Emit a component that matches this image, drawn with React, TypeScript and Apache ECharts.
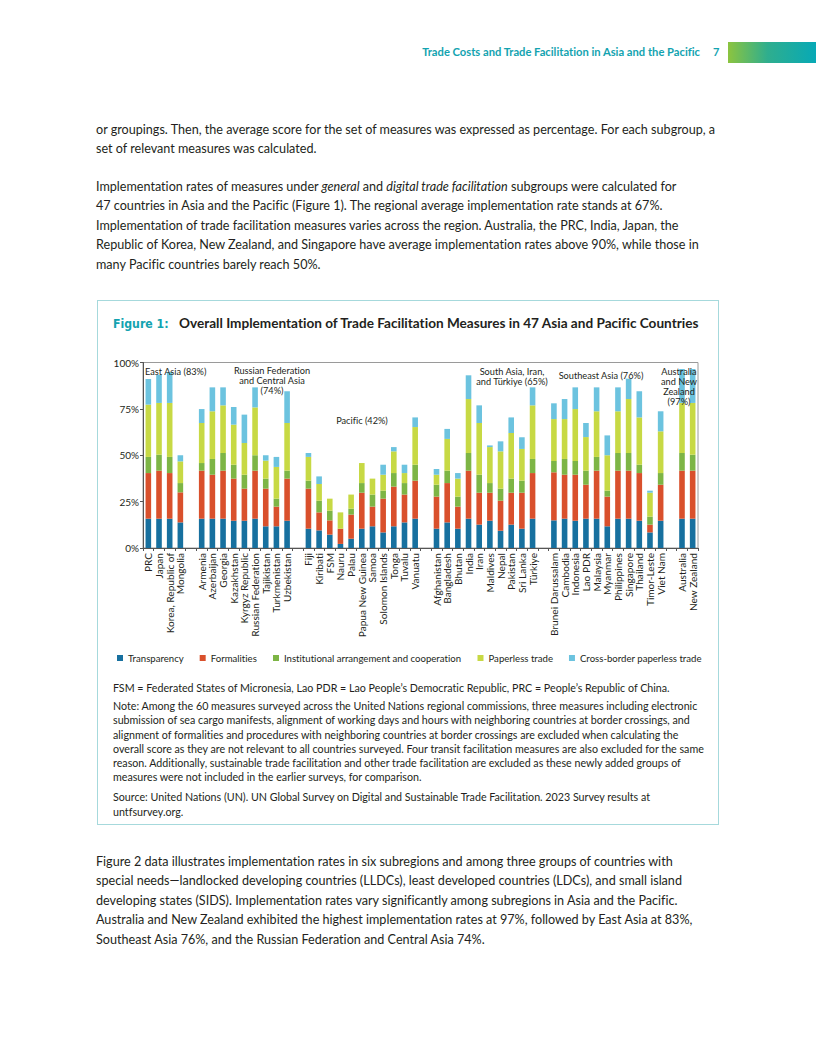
import React, { useEffect, useRef } from "react";
import * as echarts from "echarts";

// ---- Data ----
const eastAsia = ["PRC", "Japan", "Korea, Republic of", "Mongolia"];
const russiaCentralAsia = ["Armenia", "Azerbaijan", "Georgia", "Kazakhstan", "Kyrgyz Republic", "Russian Federation", "Tajikistan", "Turkmenistan", "Uzbekistan"];
const pacific = ["Fiji", "Kiribati", "FSM", "Nauru", "Palau", "Papua New Guinea", "Samoa", "Solomon Islands", "Tonga", "Tuvalu", "Vanuatu"];
const southAsia = ["Afghanistan", "Bangladesh", "Bhutan", "India", "Iran", "Maldives", "Nepal", "Pakistan", "Sri Lanka", "Türkiye"];
const southeastAsia = ["Brunei Darussalam", "Cambodia", "Indonesia", "Lao PDR", "Malaysia", "Myanmar", "Philippines", "Singapore", "Thailand", "Timor-Leste", "Viet Nam"];
const ausNz = ["Australia", "New Zealand"];

const seriesNames = ["Transparency", "Formalities", "Institutional arrangement and cooperation", "Paperless trade", "Cross-border paperless trade"];
const seriesColors = ["#17709f", "#d9502c", "#7db545", "#c7d944", "#6cc3df"];

// values in %, in the order of the country lists above
const transparency = [
  15.8, 15.8, 15.8, 13.8,
  15.8, 15.8, 15.8, 14.7, 14.7, 15.8, 11.7, 11.7, 14.7,
  10.4, 9.5, 7.2, 2.2, 5.0, 10.4, 11.7, 8.4, 11.7, 13.8, 15.8,
  10.4, 13.8, 10.4, 15.8, 12.6, 14.7, 9.3, 12.6, 10.4, 15.8,
  14.9, 15.8, 14.7, 15.8, 15.8, 11.7, 15.8, 15.8, 14.7, 8.4, 14.7,
  15.8, 15.8,
];
const formalities = [
  24.6, 25.9, 24.6, 16.2,
  25.9, 23.7, 25.9, 22.7, 17.3, 25.9, 20.3, 10.6, 22.7,
  21.6, 9.7, 7.7, 8.2, 13.0, 19.4, 10.6, 18.2, 21.4, 15.0, 20.5,
  17.3, 21.2, 11.9, 25.9, 17.2, 15.1, 16.2, 17.2, 19.4, 24.6,
  25.9, 23.7, 24.8, 18.3, 25.9, 16.0, 25.9, 25.9, 25.7, 4.2, 19.4,
  25.9, 25.9,
];
const institutional = [
  8.7, 8.6, 8.7, 5.0,
  4.1, 8.5, 9.5, 7.5, 7.5, 8.3, 5.4, 4.3, 4.3,
  4.3, 6.3, 5.2, 0, 3.2, 5.2, 6.5, 4.3, 7.3, 6.2, 8.6,
  6.4, 6.7, 5.4, 9.5, 9.7, 5.2, 6.5, 7.6, 6.5, 7.6,
  6.1, 8.5, 7.4, 7.6, 7.4, 3.2, 9.5, 9.5, 4.5, 4.3, 6.3,
  9.5, 8.6,
];
const paperless = [
  28.2, 27.9, 29.1, 11.7,
  21.6, 25.7, 25.7, 21.6, 17.1, 25.8, 9.7, 17.1, 25.7,
  12.8, 9.0, 6.5, 8.8, 7.6, 10.8, 8.6, 8.6, 11.7, 5.4, 20.3,
  5.4, 17.1, 9.7, 29.1, 27.9, 19.4, 20.1, 24.6, 17.1, 28.9,
  22.6, 21.5, 28.0, 18.1, 24.6, 19.1, 22.5, 29.1, 25.5, 12.9, 22.5,
  27.0, 27.9,
];
const crossBorder = [
  13.8, 15.2, 16.7, 3.3,
  7.5, 12.9, 9.7, 9.5, 15.3, 10.8, 2.9, 5.4, 17.1,
  2.1, 4.1, 0, 0, 0, 0, 0, 5.4, 2.3, 4.5, 5.2,
  3.1, 5.4, 3.0, 12.8, 9.5, 0.9, 5.4, 8.4, 6.3, 9.7,
  8.5, 10.8, 11.7, 7.6, 12.9, 10.7, 12.9, 11.0, 14.1, 1.1, 10.8,
  18.3, 18.3,
];

const yTicks = [0, 25, 50, 75, 100];

const groupNotes = [
  { text: "East Asia (83%)", x: 45, y: 31, align: "left" },
  { text: "Russian Federation\nand Central Asia\n(74%)", x: 172, y: 40, align: "center" },
  { text: "Pacific (42%)", x: 262, y: 80, align: "center" },
  { text: "South Asia, Iran,\nand Türkiye (65%)", x: 412, y: 36, align: "center" },
  { text: "Southeast Asia (76%)", x: 501, y: 35, align: "center" },
  { text: "Australia\nand New\nZealand\n(97%)", x: 579, y: 46, align: "center" },
];

const FONT = "Lato, 'Open Sans', sans-serif";
const TEXT = "#231f20";
const TEAL = "#13a3b0";

function Chart() {
  const ref = useRef<HTMLDivElement>(null);
  useEffect(() => {
    if (!ref.current) return;
    const chart = echarts.init(ref.current, undefined, { renderer: "svg" });
    const groups = [eastAsia, russiaCentralAsia, pacific, southAsia, southeastAsia, ausNz];
    const values = [transparency, formalities, institutional, paperless, crossBorder];
    const categories: string[] = [];
    const slotIndex: number[] = [];
    let c = 0;
    groups.forEach((g, gi) => {
      if (gi > 0) {
        categories.push(" ".repeat(gi));
        slotIndex.push(-1);
      }
      g.forEach((name) => {
        categories.push(name);
        slotIndex.push(c++);
      });
    });
    const series = values.map((arr, si) => ({
      name: seriesNames[si],
      type: "bar",
      stack: "total",
      barWidth: 5.6,
      itemStyle: { color: seriesColors[si] },
      data: slotIndex.map((k) => (k < 0 ? null : arr[k])),
    }));
    chart.setOption({
      animation: false,
      grid: { left: 43, top: 22.5, width: 555, height: 185.5, show: true, borderColor: "#9a9a9a", borderWidth: 1, backgroundColor: "transparent" },
      legend: {
        data: seriesNames,
        left: 17,
        top: 313,
        width: 595,
        padding: 0,
        icon: "rect",
        itemWidth: 6,
        itemHeight: 6,
        itemGap: 16,
        textStyle: { fontFamily: FONT, fontSize: 9.6, color: TEXT },
      },
      xAxis: {
        type: "category",
        data: categories,
        axisLine: { lineStyle: { color: "#555", width: 1 } },
        axisTick: { show: true, interval: 0, length: 3, lineStyle: { color: "#555" } },
        axisLabel: { interval: 0, rotate: 90, fontFamily: FONT, fontSize: 10.1, color: TEXT, margin: 5 },
      },
      yAxis: {
        type: "value",
        min: yTicks[0],
        max: yTicks[yTicks.length - 1],
        interval: 25,
        splitLine: { show: false },
        axisLine: { show: true, lineStyle: { color: "#555", width: 1 } },
        axisTick: { show: true, length: 3, lineStyle: { color: "#555" } },
        axisLabel: { formatter: "{value}%", fontFamily: FONT, fontSize: 10, color: TEXT, margin: 4 },
      },
      graphic: groupNotes.map((n) => ({
        type: "text",
        x: n.x,
        y: n.y,
        z: 100,
        style: {
          text: n.text,
          fill: TEXT,
          fontFamily: FONT,
          fontSize: 9.2,
          lineHeight: 10,
          align: n.align,
          verticalAlign: "middle",
        },
      })),
      series,
    });
    return () => chart.dispose();
  }, []);
  return <div ref={ref} style={{ position: "absolute", left: 100, top: 340, width: 612, height: 335, fontVariantLigatures: "none" }} />;
}

const para1 = [
  "or groupings. Then, the average score for the set of measures was expressed as percentage. For each subgroup, a",
  "set of relevant measures was calculated.",
];
const para3 = [
  "Figure 2 data illustrates implementation rates in six subregions and among three groups of countries with",
  "special needs—landlocked developing countries (LLDCs), least developed countries (LDCs), and small island",
  "developing states (SIDS). Implementation rates vary significantly among subregions in Asia and the Pacific.",
  "Australia and New Zealand exhibited the highest implementation rates at 97%, followed by East Asia at 83%,",
  "Southeast Asia 76%, and the Russian Federation and Central Asia 74%.",
];
const noteLines = [
  "Note: Among the 60 measures surveyed across the United Nations regional commissions, three measures including electronic",
  "submission of sea cargo manifests, alignment of working days and hours with neighboring countries at border crossings, and",
  "alignment of formalities and procedures with neighboring countries at border crossings are excluded when calculating the",
  "overall score as they are not relevant to all countries surveyed. Four transit facilitation measures are also excluded for the same",
  "reason. Additionally, sustainable trade facilitation and other trade facilitation are excluded as these newly added groups of",
  "measures were not included in the earlier surveys, for comparison.",
];

const bodyStyle: React.CSSProperties = { position: "absolute", left: 96, fontFamily: FONT, fontSize: 12.6, lineHeight: "19.4px", color: TEXT, whiteSpace: "nowrap", fontVariantLigatures: "none" };
const smallStyle: React.CSSProperties = { position: "absolute", left: 113, fontFamily: FONT, fontSize: 10.7, lineHeight: "14.3px", color: TEXT, whiteSpace: "nowrap", fontVariantLigatures: "none" };

export default function App() {
  return (
    <div style={{ position: "absolute", left: 0, top: 0, width: 816, height: 1056, background: "#fff", overflow: "hidden" }}>
      {/* header */}
      <div style={{ position: "absolute", right: 116, top: 45, fontFamily: FONT, fontWeight: 700, fontSize: 11.2, color: TEAL, whiteSpace: "nowrap", fontVariantLigatures: "none" }}>
        Trade Costs and Trade Facilitation in Asia and the Pacific
      </div>
      <div style={{ position: "absolute", left: 713, top: 45, fontFamily: FONT, fontWeight: 700, fontSize: 11, color: TEAL }}>7</div>
      <div style={{ position: "absolute", left: 728, top: 42, width: 88, height: 21, background: "linear-gradient(90deg, #8cc43f 0%, #2fae8e 45%, #07a9b6 100%)" }} />

      {/* paragraph 1 */}
      <div style={{ ...bodyStyle, top: 120 }}>
        {para1.map((l, i) => <div key={i}>{l}</div>)}
      </div>
      {/* paragraph 2 */}
      <div style={{ ...bodyStyle, top: 177 }}>
        <div>Implementation rates of measures under <i>general</i> and <i>digital trade facilitation</i> subgroups were calculated for</div>
        <div>47 countries in Asia and the Pacific (Figure 1). The regional average implementation rate stands at 67%.</div>
        <div>Implementation of trade facilitation measures varies across the region. Australia, the PRC, India, Japan, the</div>
        <div>Republic of Korea, New Zealand, and Singapore have average implementation rates above 90%, while those in</div>
        <div>many Pacific countries barely reach 50%.</div>
      </div>

      {/* figure box */}
      <div style={{ position: "absolute", left: 97, top: 300, width: 622, height: 525, border: "1px solid #a6d9dc", boxSizing: "border-box" }} />
      <div style={{ position: "absolute", left: 113, top: 315, whiteSpace: "nowrap", fontFamily: FONT, fontSize: 13.6, color: TEXT, fontVariantLigatures: "none" }}>
        <span style={{ fontFamily: "'DejaVu Sans Condensed', 'DejaVu Sans', sans-serif", fontWeight: 700, color: TEAL, fontSize: 12.2, display: "inline-block", width: 58 }}>Figure 1:</span>
        <span style={{ fontWeight: 700, marginLeft: 8 }}>Overall Implementation of Trade Facilitation Measures in 47 Asia and Pacific Countries</span>
      </div>
      <Chart />

      <div style={{ ...smallStyle, top: 681 }}>
        FSM = Federated States of Micronesia, Lao PDR = Lao People’s Democratic Republic, PRC = People’s Republic of China.
      </div>
      <div style={{ ...smallStyle, top: 699 }}>
        {noteLines.map((l, i) => <div key={i}>{l}</div>)}
      </div>
      <div style={{ ...smallStyle, top: 789, lineHeight: "15px" }}>
        <div>Source: United Nations (UN). UN Global Survey on Digital and Sustainable Trade Facilitation. 2023 Survey results at</div>
        <div>untfsurvey.org.</div>
      </div>

      {/* paragraph 3 */}
      <div style={{ ...bodyStyle, top: 852 }}>
        {para3.map((l, i) => <div key={i}>{l}</div>)}
      </div>
    </div>
  );
}
